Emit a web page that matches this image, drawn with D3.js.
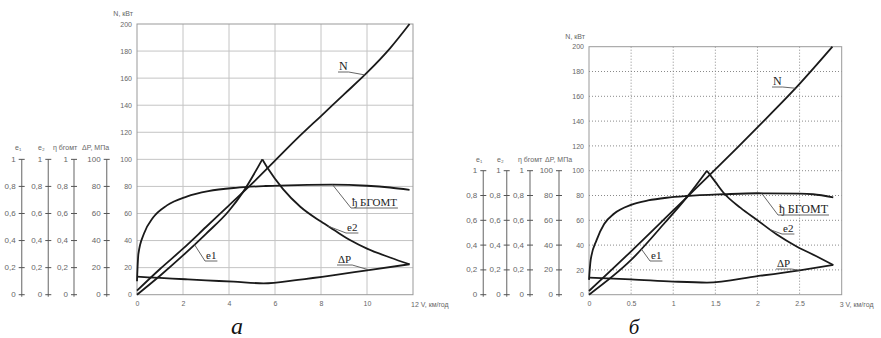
<!DOCTYPE html>
<html>
<head>
<meta charset="utf-8">
<script src="https://cdn.jsdelivr.net/npm/d3@7"></script>
<style>
  body { margin: 0; background: #fff; }
  svg { display: block; }
</style>
</head>
<body>
<svg id="chart" width="881" height="338"></svg>
<script>
// panel а : V, км/год 0..12
const aN   = [[0,3],[1,19],[2,34],[3,50],[4,66],[5,82],[6,99],[7,116],[8,132],[9,148],[10,164],[11,182],[11.85,200]];
const aE1  = [[0,0],[1,14],[2,29],[3,45],[4,62],[4.6,75.6],[5.45,100]];
const aE2  = [[5.45,100],[5.7,93],[6.35,78],[7.1,65],[8,54],[8.55,48],[9.3,40],[10,34],[11,27.5],[11.85,22.5]];
const aEta = [[0,10],[0.06,30],[0.3,45],[0.7,57],[1.3,66],[2.16,72.5],[3.1,76.5],[4.3,79],[5.6,80.3],[7,81],[8.5,81.3],[10,80.5],[11,79.2],[11.85,77.5]];
const aDP  = [[0,13.3],[1,12.4],[2.1,11.4],[3,10.6],[4.2,9.6],[5.5,8.4],[7,11],[8.5,14.3],[10,18],[11.85,22.5]];
const aXTicks = [0, 2, 4, 6, 8, 10];

// panel б : V, км/год 0..3
const bN   = [[0,3],[0.5,35],[1,68],[1.5,101],[2,135],[2.5,170],[2.89,200]];
const bE1  = [[0,0],[0.5,28],[0.9,58],[1.16,78.5],[1.4,100]];
const bE2  = [[1.4,100],[1.5,91],[1.6,82],[1.8,70],[2,60],[2.23,48.5],[2.47,38.7],[2.7,31],[2.9,24]];
const bEta = [[0,12],[0.02,28],[0.09,44],[0.18,57],[0.3,65.5],[0.5,72.5],[0.7,76],[0.92,78.2],[1.16,79.6],[1.6,81],[2,81.8],[2.5,81.5],[2.66,81],[2.9,78.5]];
const bDP  = [[0,13.7],[0.5,12.4],[1,10.6],[1.4,9.8],[2,15],[2.5,19.7],[2.9,24]];
const bXTicks = [0, 0.5, 1, 1.5, 2, 2.5];

const nTicks = [0, 20, 40, 60, 80, 100, 120, 140, 160, 180, 200];
const sideTicks = [0, 0.2, 0.4, 0.6, 0.8, 1];
const sideHeads = ['e\u2081', 'e\u2082', '\u03b7 бгомт', '\u0394P, МПа'];

const svg = d3.select('#chart');
const serif = 'Liberation Serif, DejaVu Serif, serif';
const sans = 'Liberation Sans, DejaVu Sans, sans-serif';

function valAt(series, v) {
  for (let i = 1; i < series.length; i++) {
    const [x0, y0] = series[i - 1], [x1, y1] = series[i];
    if (v <= x1) return y0 + (y1 - y0) * (v - x0) / (x1 - x0);
  }
  return series[series.length - 1][1];
}

function drawPanel(p) {
  const g = svg.append('g');
  const x = d3.scaleLinear().domain([0, p.xMax]).range([p.left, p.right]);
  const y = d3.scaleLinear().domain([0, 200]).range([p.bottom, p.top]);

  // grid
  const grid = g.append('g')
    .attr('stroke', p.dotted ? '#8a8a8a' : '#c4c4c4')
    .attr('stroke-width', 1)
    .attr('stroke-dasharray', p.dotted ? '1,2' : null);
  grid.selectAll('.h').data(nTicks.slice(1, -1)).join('line')
    .attr('x1', p.left).attr('x2', p.right)
    .attr('y1', d => y(d)).attr('y2', d => y(d));
  grid.selectAll('.v').data(p.xTicks.slice(1)).join('line')
    .attr('y1', p.top).attr('y2', p.bottom)
    .attr('x1', d => x(d)).attr('x2', d => x(d));
  g.append('rect')
    .attr('x', p.left).attr('y', p.top)
    .attr('width', p.right - p.left).attr('height', p.bottom - p.top)
    .attr('fill', 'none').attr('stroke', '#999').attr('stroke-width', 1);

  // main axes
  const ya = g.append('g')
    .attr('transform', 'translate(' + (p.left - 3) + ',0)')
    .call(d3.axisLeft(y).tickValues(nTicks).tickSize(0).tickPadding(2));
  ya.select('.domain').remove();
  ya.selectAll('text').attr('font-family', sans).attr('font-size', 7).attr('fill', '#666');

  const xa = g.append('g')
    .attr('transform', 'translate(0,' + (p.bottom + 4) + ')')
    .call(d3.axisBottom(x).tickValues(p.xTicks).tickSize(0).tickPadding(2)
      .tickFormat(d => String(d)));
  xa.select('.domain').remove();
  xa.selectAll('text').attr('font-family', sans).attr('font-size', 7).attr('fill', '#666');

  g.append('text')
    .attr('x', x(p.xMax) - 2).attr('y', p.bottom + 12)
    .attr('font-family', sans).attr('font-size', 7).attr('fill', '#666')
    .text(p.xMax + ' V, км/год');
  g.append('text')
    .attr('x', p.left - 4).attr('y', p.top - 8)
    .attr('text-anchor', 'end')
    .attr('font-family', sans).attr('font-size', 7).attr('fill', '#666')
    .text('N, кВт');

  // side scales e1, e2, eta, dP
  const ys = d3.scaleLinear().domain([0, 1]).range([y(0), y(100)]);
  p.sideX.forEach((sx, i) => {
    const s = g.append('g').attr('transform', 'translate(' + sx + ',0)');
    s.append('line').attr('y1', ys(1)).attr('y2', ys(0) + 2)
      .attr('stroke', '#888').attr('stroke-width', 1.3);
    s.selectAll('line.t').data(sideTicks).join('line')
      .attr('x1', -3).attr('x2', 3)
      .attr('y1', d => ys(d)).attr('y2', d => ys(d))
      .attr('stroke', '#555').attr('stroke-width', 1);
    s.selectAll('text.t').data(sideTicks).join('text')
      .attr('x', -6).attr('y', d => ys(d) + 2.5)
      .attr('text-anchor', 'end')
      .attr('font-family', sans).attr('font-size', 8).attr('fill', '#666')
      .text(d => i === 3 ? String(Math.round(d * 100)) : String(d).replace('.', ','));
    g.append('text')
      .attr('x', p.headX[i]).attr('y', ys(1) - 9)
      .attr('font-family', sans).attr('font-size', 7).attr('fill', '#666')
      .text(sideHeads[i]);
  });

  // curves
  const line = d3.line().x(d => x(d[0])).y(d => y(d[1])).curve(d3.curveMonotoneX);
  g.append('g').selectAll('path')
    .data([p.N, p.E1, p.E2, p.Eta, p.DP]).join('path')
    .attr('d', line)
    .attr('fill', 'none').attr('stroke', '#1a1a1a').attr('stroke-width', 1.8)
    .attr('stroke-linejoin', 'round');

  // curve labels with leaders
  p.labels.forEach(l => {
    const lg = g.append('g');
    const t = lg.append('text')
      .attr('x', l.tx).attr('y', l.ty)
      .attr('font-family', serif).attr('font-size', l.size || 12).attr('fill', '#222')
      .text(l.text);
    const w = t.node().getComputedTextLength();
    const uy = l.ty + 2;
    lg.append('line').attr('x1', l.tx - 1).attr('x2', l.tx + w + 1)
      .attr('y1', uy).attr('y2', uy)
      .attr('stroke', '#555').attr('stroke-width', 0.9);
    const sx = l.fromRight ? l.tx + w + 1 : l.tx - 1;
    lg.append('line')
      .attr('x1', sx).attr('y1', uy)
      .attr('x2', x(l.v)).attr('y2', y(valAt(l.series, l.v)))
      .attr('stroke', '#555').attr('stroke-width', 0.9);
  });

  svg.append('text')
    .attr('x', p.capX).attr('y', 334)
    .attr('text-anchor', 'middle')
    .attr('font-family', serif).attr('font-style', 'italic')
    .attr('font-size', p.capSize).attr('fill', '#111')
    .text(p.caption);
}

drawPanel({
  xMax: 12, xTicks: aXTicks, gridX: 12,
  left: 137, right: 413, top: 24, bottom: 294.7, dotted: false,
  N: aN, E1: aE1, E2: aE2, Eta: aEta, DP: aDP,
  sideX: [21.7, 48.3, 74, 106.7],
  headX: [15, 38, 53, 82],
  caption: 'а', capX: 237, capSize: 24,
  labels: [
    { text: 'N', tx: 339, ty: 70, series: aN, v: 9.9, fromRight: true },
    { text: 'ђ БГОМТ', tx: 352, ty: 206, series: aEta, v: 8.5, fromRight: false, size: 11 },
    { text: 'е2', tx: 347, ty: 231, series: aE2, v: 8.3, fromRight: false, size: 11 },
    { text: 'е1', tx: 206, ty: 259, series: aE1, v: 2.5, fromRight: false, size: 11 },
    { text: '\u0394P', tx: 338, ty: 263, series: aDP, v: 10.1, fromRight: true, size: 11 }
  ]
});

drawPanel({
  xMax: 3, xTicks: bXTicks,
  left: 589, right: 841.7, top: 46.7, bottom: 294.7, dotted: true,
  N: bN, E1: bE1, E2: bE2, Eta: bEta, DP: bDP,
  sideX: [483.3, 506.7, 530, 559],
  headX: [476, 497, 518, 545],
  caption: 'б', capX: 634, capSize: 21,
  labels: [
    { text: 'N', tx: 773, ty: 85, series: bN, v: 2.45, fromRight: true },
    { text: 'ђ БГОМТ', tx: 779, ty: 213, series: bEta, v: 2.05, fromRight: false },
    { text: 'е2', tx: 783, ty: 232, series: bE2, v: 2.15, fromRight: false, size: 11 },
    { text: 'е1', tx: 651, ty: 259, series: bE1, v: 0.62, fromRight: false, size: 11 },
    { text: '\u0394P', tx: 777, ty: 267, series: bDP, v: 2.5, fromRight: true, size: 11 }
  ]
});
</script>
</body>
</html>
